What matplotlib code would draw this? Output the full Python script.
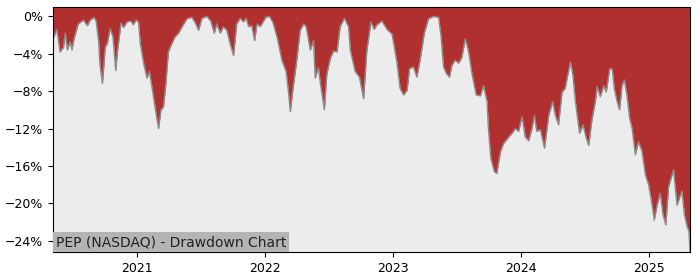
import matplotlib
matplotlib.use('Agg')
import matplotlib.pyplot as plt
import matplotlib.dates as mdates
from matplotlib.ticker import FuncFormatter, MultipleLocator
import pandas as pd

# drawdown of PEP (percent)
dates = [
	'2020-05-06', '2020-05-17', '2020-05-26', '2020-06-05', '2020-06-10', '2020-06-16',
	'2020-06-24', '2020-06-29', '2020-07-05', '2020-07-17', '2020-08-01', '2020-08-12',
	'2020-08-20', '2020-08-31', '2020-09-06', '2020-09-13', '2020-09-17', '2020-09-24',
	'2020-10-02', '2020-10-08', '2020-10-16', '2020-10-24', '2020-11-01', '2020-11-06',
	'2020-11-16', '2020-11-23', '2020-12-03', '2020-12-14', '2020-12-21', '2020-12-29',
	'2021-01-05', '2021-01-10', '2021-01-19', '2021-01-29', '2021-02-05', '2021-02-15',
	'2021-02-21', '2021-03-03', '2021-03-10', '2021-03-17', '2021-03-24', '2021-03-31',
	'2021-04-10', '2021-04-19', '2021-04-29', '2021-05-11', '2021-05-23', '2021-06-06',
	'2021-06-16', '2021-06-25', '2021-07-05', '2021-07-19', '2021-07-30', '2021-08-09',
	'2021-08-16', '2021-08-26', '2021-09-04', '2021-09-14', '2021-09-23', '2021-10-03',
	'2021-10-12', '2021-10-22', '2021-10-31', '2021-11-08', '2021-11-15', '2021-11-24',
	'2021-12-02', '2021-12-09', '2021-12-18',
	'2022-01-03', '2022-01-13', '2022-01-23', '2022-02-04', '2022-02-18', '2022-03-02',
	'2022-03-09', '2022-03-14', '2022-03-21', '2022-04-02', '2022-04-11', '2022-04-21',
	'2022-04-28', '2022-05-10', '2022-05-19', '2022-05-24', '2022-06-02', '2022-06-09',
	'2022-06-19', '2022-06-26', '2022-07-06', '2022-07-15', '2022-07-25', '2022-08-03',
	'2022-08-15', '2022-08-27', '2022-09-01', '2022-09-15', '2022-09-27', '2022-10-09',
	'2022-10-18', '2022-10-30', '2022-11-08', '2022-11-16', '2022-11-30', '2022-12-15',
	'2022-12-29',
	'2023-01-12', '2023-01-21', '2023-01-31', '2023-02-10', '2023-02-17', '2023-02-28',
	'2023-03-10', '2023-03-19', '2023-03-31', '2023-04-12', '2023-04-26', '2023-05-11',
	'2023-05-18', '2023-05-25', '2023-06-02', '2023-06-11', '2023-06-18', '2023-06-27',
	'2023-07-07', '2023-07-16', '2023-07-26', '2023-08-04', '2023-08-14', '2023-08-26',
	'2023-09-07', '2023-09-16', '2023-09-26', '2023-09-30', '2023-10-07', '2023-10-17',
	'2023-10-24', '2023-11-03', '2023-11-12', '2023-11-27', '2023-12-06', '2023-12-16',
	'2023-12-25',
	'2024-01-04', '2024-01-13', '2024-01-23', '2024-02-01', '2024-02-08', '2024-02-15',
	'2024-02-25', '2024-03-08', '2024-03-20', '2024-03-31', '2024-04-08', '2024-04-17',
	'2024-04-27', '2024-05-06', '2024-05-13', '2024-05-21', '2024-05-28', '2024-06-04',
	'2024-06-16', '2024-06-26', '2024-07-05', '2024-07-12', '2024-07-21', '2024-07-31',
	'2024-08-05', '2024-08-14', '2024-08-24', '2024-08-31', '2024-09-10', '2024-09-17',
	'2024-09-23', '2024-10-01', '2024-10-08', '2024-10-15', '2024-10-22', '2024-10-29',
	'2024-11-06', '2024-11-13', '2024-11-22', '2024-12-01', '2024-12-11', '2024-12-21',
	'2024-12-30',
	'2025-01-09', '2025-01-15', '2025-01-23', '2025-02-01', '2025-02-09', '2025-02-17',
	'2025-02-25', '2025-03-11', '2025-03-21', '2025-03-29', '2025-04-04', '2025-04-11',
	'2025-04-19', '2025-04-24', '2025-04-27',
]
drawdown = [
	-2.4, -1.4, -3.8, -3.3, -1.8, -3.6,
	-2.7, -3.6, -2.4, -0.8, -0.4, -1.0,
	-0.4, -0.1, -0.5, -2.6, -5.2, -7.2,
	-3.3, -2.9, -1.3, -2.2, -5.8, -3.7,
	-0.7, -1.2, -0.6, -0.5, -0.9, -0.4,
	-0.6, -2.9, -4.9, -6.6, -5.9, -8.2,
	-9.7, -12.0, -10.0, -9.7, -7.2, -3.8,
	-2.9, -2.2, -1.8, -1.0, -0.25, -0.1,
	-0.7, -1.5, -0.2, 0.0, -0.5, -1.8,
	-0.8, -1.8, -1.1, -1.5, -2.9, -4.2,
	-0.8, -0.2, -0.6, -0.2, -1.1, -1.0,
	-2.6, -0.8, -1.1,
	-0.1, 0.0, -0.6, -2.2, -4.7, -5.9,
	-8.2, -10.2, -7.9, -4.5, -1.5, -0.8,
	-1.1, -3.6, -2.6, -6.6, -5.5, -7.5,
	-10.0, -6.2, -4.5, -3.7, -3.8, -1.1,
	-0.2, -1.1, -3.6, -5.9, -6.5, -8.8,
	-3.7, -0.6, -1.4, -0.9, -0.5, -1.4,
	-1.9,
	-4.9, -7.7, -8.4, -7.9, -5.6, -5.4,
	-6.5, -4.7, -1.8, -0.25, 0.0, -0.1,
	-2.2, -5.4, -6.1, -6.5, -5.2, -4.7,
	-5.0, -4.4, -2.4, -3.7, -6.1, -8.4,
	-8.5, -7.4, -9.1, -12.0, -15.2, -16.6,
	-16.8, -14.5, -13.6, -12.9, -12.5, -12.0,
	-12.3,
	-10.7, -12.9, -13.3, -12.0, -10.6, -12.3,
	-12.1, -14.1, -10.6, -9.1, -10.6, -11.6,
	-8.1, -7.7, -6.3, -4.9, -6.3, -9.1,
	-12.5, -11.6, -13.0, -13.8, -11.1, -9.1,
	-7.5, -8.6, -7.4, -8.1, -5.6, -5.6,
	-7.7, -9.1, -10.0, -7.4, -6.8, -8.4,
	-10.9, -12.0, -14.8, -13.4, -14.4, -17.0,
	-18.0,
	-20.2, -21.8, -20.2, -18.9, -21.2, -22.3,
	-18.2, -16.4, -20.2, -19.3, -18.7, -21.2,
	-22.5, -23.0, -25.2,
]
title = 'PEP (NASDAQ) - Drawdown Chart'


def main():
	x = pd.to_datetime(dates)
	top = 1.0
	bottom = min(drawdown)

	fig = plt.figure(figsize=(7, 2.8), dpi=100)
	ax = fig.add_axes([0.0757, 0.1, 0.91, 0.875])
	ax.set_facecolor('#ececec')

	ax.fill_between(x, drawdown, top, color='#b03030', linewidth=0)
	ax.plot(x, drawdown, color='#8c8c8c', linewidth=1)

	ax.set_xlim(x[0], x[-1])
	ax.set_ylim(bottom, top)
	ax.yaxis.set_major_locator(MultipleLocator(4))
	ax.yaxis.set_major_formatter(FuncFormatter(lambda v, p: f'{v:.0f}%'.replace('-', '\u2212')))
	ax.xaxis.set_major_locator(mdates.YearLocator())
	ax.xaxis.set_major_formatter(mdates.DateFormatter('%Y'))
	ax.tick_params(labelsize=9)

	ax.text(0.005, 0.012, title, transform=ax.transAxes, fontsize=10, color='#222222',
			ha='left', va='bottom',
			bbox=dict(facecolor='#b4b4b4', edgecolor='none', pad=2))

	fig.savefig('out.png', dpi=100)


if __name__ == '__main__':
	main()
